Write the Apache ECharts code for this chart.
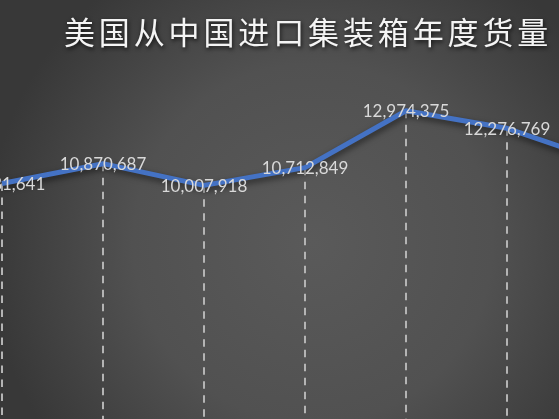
<!DOCTYPE html>
<html>
<head>
<meta charset="utf-8">
<script src="https://cdn.jsdelivr.net/npm/echarts@6/dist/echarts.min.js"></script>
<style>
html,body{margin:0;padding:0;}
#c{width:559px;height:419px;}
</style>
</head>
<body>
<div id="c"></div>
<script>
const titleText = '美国从中国进口集装箱年度货量';
const categories = ['2017', '2018', '2019', '2020', '2021', '2022', '2023'];
const volumes = [10081641, 10870687, 10007918, 10712849, 12974375, 12276769, 10900000];

const chart = echarts.init(document.getElementById('c'));
const spacedTitle = titleText.split('').join('\u200A\u200A');

chart.setOption({
  animation: false,
  backgroundColor: {
    type: 'radial', x: 0.56, y: 0.58, r: 0.78,
    colorStops: [
      { offset: 0, color: '#5a5a5a' },
      { offset: 0.55, color: '#515151' },
      { offset: 1, color: '#383838' }
    ]
  },
  title: {
    text: spacedTitle,
    left: 64,
    top: 17,
    padding: 0,
    textStyle: {
      color: '#f4f4f4',
      fontFamily: '"Noto Sans CJK SC", sans-serif',
      fontSize: 31,
      fontWeight: 'normal',
      textShadowColor: 'rgba(0,0,0,0.75)',
      textShadowBlur: 4,
      textShadowOffsetX: 1,
      textShadowOffsetY: 2
    }
  },
  grid: {
    left: 2,
    right: -49,
    top: 85,
    bottom: -18,
    outerBoundsMode: 'none',
    containLabel: false
  },
  xAxis: {
    type: 'category',
    data: categories,
    boundaryGap: false,
    show: false
  },
  yAxis: {
    type: 'value',
    min: 0,
    max: 14000000,
    show: false,
    splitLine: { show: false }
  },
  series: [{
    type: 'line',
    data: volumes,
    z: 3,
    symbol: 'circle',
    symbolSize: 1,
    showSymbol: true,
    itemStyle: { color: 'rgba(0,0,0,0)' },
    lineStyle: {
      color: '#4472c4',
      width: 5,
      shadowColor: 'rgba(0,0,0,0.55)',
      shadowBlur: 6,
      shadowOffsetX: 1,
      shadowOffsetY: 3
    },
    emphasis: { disabled: true },
    label: {
      show: true,
      position: 'inside',
      offset: [0, 1],
      color: '#d9d9d9',
      fontFamily: 'Lato, sans-serif',
      fontSize: 17,
      formatter: p => p.value.toLocaleString('en-US')
    },
    markLine: {
      silent: true,
      z: 1,
      symbol: ['none', 'none'],
      label: { show: false },
      emphasis: { disabled: true },
      lineStyle: {
        color: '#b4b4b4',
        width: 2,
        type: [7.5, 6.5]
      },
      data: volumes.map((v, i) => [
        { coord: [categories[i], v] },
        { coord: [categories[i], 0] }
      ])
    }
  }]
});
</script>
</body>
</html>
